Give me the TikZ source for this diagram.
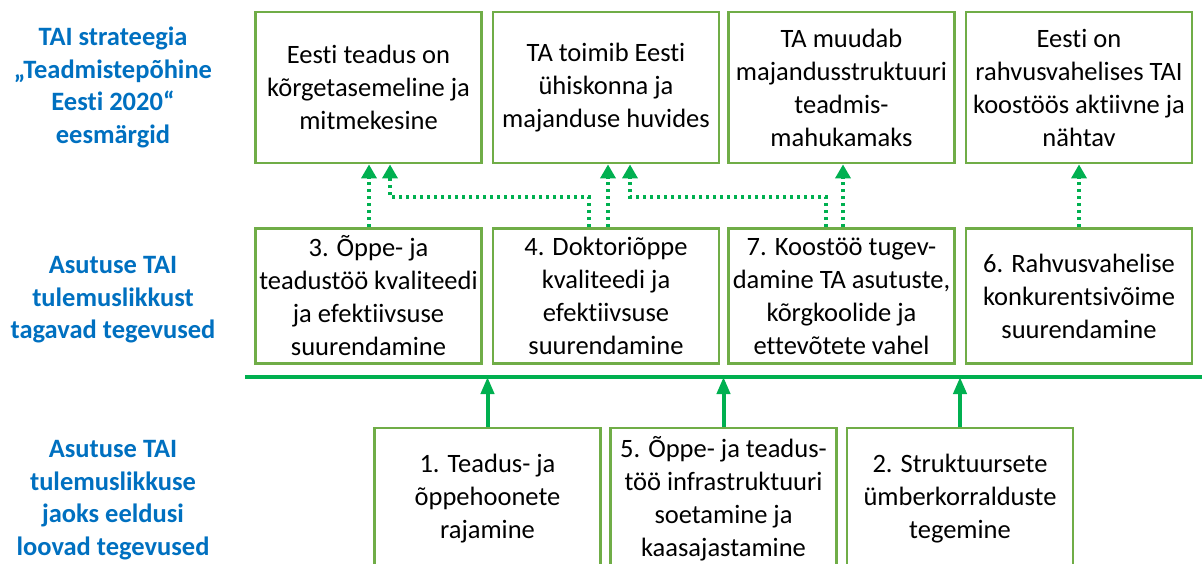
\documentclass[tikz,border=0pt]{standalone}
\usepackage{fontspec}
\setmainfont{Carlito}[Ligatures=NoCommon]
\usetikzlibrary{arrows.meta}
\definecolor{boxgreen}{HTML}{70AD47}
\definecolor{arrgreen}{HTML}{00B050}
\definecolor{lblue}{HTML}{0070C0}
\tikzset{
  gbox/.style={draw=boxgreen, line width=2.8pt, minimum width=226pt, minimum height=#1, align=center, inner sep=0pt,
    font=\fontsize{26.5}{33}\selectfont},
  lefttext/.style={align=center, text=lblue, font=\bfseries\fontsize{26.5}{32.5}\selectfont},
  dotarrow/.style={draw=arrgreen, line width=3.5pt, dash pattern=on 3.5pt off 3.5pt,
    -{Triangle[width=15pt,length=14pt]}},
  solidarrow/.style={draw=arrgreen, line width=4pt, -{Triangle[width=13pt,length=17pt]}},
}
\begin{document}
\begin{tikzpicture}[x=1pt,y=-1pt]
\useasboundingbox (0,0) rectangle (1202,563);
% left labels
\node[lefttext] (l1) at (113,87.5) {TAI strateegia\\„Teadmistepõhine\\Eesti 2020“\\eesmärgid};
\node[lefttext] (l2) at (113,300) {Asutuse TAI\\tulemuslikkust\\tagavad tegevused};
\node[lefttext] (l3) at (113,500) {Asutuse TAI\\tulemuslikkuse\\jaoks eeldusi\\loovad tegevused};
% row 1
\node[gbox=151pt] (g1) at (368.5,87.5) {Eesti teadus on\\kõrgetasemeline ja\\mitmekesine};
\node[gbox=151pt] (g2) at (606,87.5) {TA toimib Eesti\\ühiskonna ja\\majanduse huvides};
\node[gbox=151pt] (g3) at (841.5,87.5) {TA muudab\\majandusstruktuuri\\teadmis-\\mahukamaks};
\node[gbox=151pt] (g4) at (1079,87.5) {Eesti on\\rahvusvahelises TAI\\koostöös aktiivne ja\\nähtav};
% row 2
\node[gbox=135pt] (a3) at (368.5,296) {3. Õppe- ja\\teadustöö kvaliteedi\\ja efektiivsuse\\suurendamine};
\node[gbox=135pt] (a4) at (606,296) {4. Doktoriõppe\\kvaliteedi ja\\efektiivsuse\\suurendamine};
\node[gbox=135pt] (a7) at (841.5,296) {7. Koostöö tugev-\\damine TA asutuste,\\kõrgkoolide ja\\ettevõtete vahel};
\node[gbox=135pt] (a6) at (1079,296) {6. Rahvusvahelise\\konkurentsivõime\\suurendamine};
% row 3
\node[gbox=142pt] (p1) at (487.5,499) {1. Teadus- ja\\õppehoonete\\rajamine};
\node[gbox=142pt] (p5) at (723.5,499) {5. Õppe- ja teadus-\\töö infrastruktuuri\\soetamine ja\\kaasajastamine};
\node[gbox=142pt] (p2) at (960,499) {2. Struktuursete\\ümberkorralduste\\tegemine};
% horizontal line
\coordinate (hl) at (245,377);
\coordinate (hr) at (1202,377);
\draw[arrgreen, line width=4pt] (hl) -- (hr);
% solid arrows
\draw[solidarrow] (p1.north) -- (p1.north |- hl);
\draw[solidarrow] (p5.north) -- (p5.north |- hl);
\draw[solidarrow] (p2.north) -- (p2.north |- hl);
% dotted arrows
\draw[dotarrow] ([xshift=0.5pt]a3.north) -- ([xshift=0.5pt]g1.south);
\draw[dotarrow] (589,0 |- a4.north) -- (589,197) -- (390,197) -- (390,0 |- g1.south);
\draw[dotarrow] (608,0 |- a4.north) -- (608,0 |- g2.south);
\draw[dotarrow] (826,0 |- a7.north) -- (826,197) -- (630,197) -- (630,0 |- g2.south);
\draw[dotarrow] (843,0 |- a7.north) -- (843,0 |- g3.south);
\draw[dotarrow] (a6.north) -- (g4.south);
\end{tikzpicture}
\end{document}
